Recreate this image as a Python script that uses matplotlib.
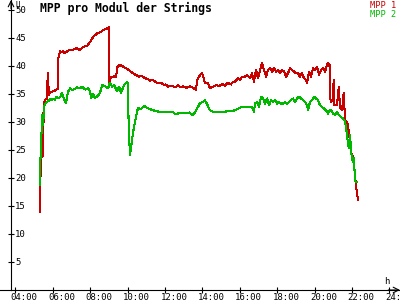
import matplotlib
matplotlib.use("Agg")
import matplotlib.pyplot as plt

# MPP 1 (red): time in hours, voltage per module
mpp1_time = [5.32, 5.33, 5.37, 5.38, 5.42, 5.44, 5.46, 5.49, 5.50, 5.53, 5.56, 5.62,
             5.70, 5.73, 5.76, 5.78, 5.80, 5.86, 6.02, 6.18, 6.28, 6.30, 6.39, 6.45,
             6.55, 6.65, 6.76, 6.93, 7.09, 7.30, 7.46, 7.57, 7.73, 7.84, 8.00, 8.16,
             8.37, 8.53, 8.69, 8.90, 9.01, 9.02, 9.04, 9.06, 9.12, 9.28, 9.33, 9.40,
             9.44, 9.55, 9.60, 9.76, 9.97, 10.13, 10.29, 10.45, 10.61, 10.78, 10.94,
             11.09, 11.20, 11.36, 11.52, 11.63, 11.79, 11.95, 12.06, 12.16, 12.27,
             12.43, 12.59, 12.70, 12.81, 12.97, 13.13, 13.34, 13.45, 13.61, 13.66,
             13.72, 13.88, 13.98, 14.04, 14.14, 14.30, 14.41, 14.57, 14.73, 14.89,
             15.05, 15.21, 15.37, 15.53, 15.64, 15.75, 15.91, 16.02, 16.12, 16.28,
             16.39, 16.55, 16.66, 16.76, 16.87, 16.98, 17.09, 17.19, 17.30, 17.41,
             17.51, 17.62, 17.73, 17.83, 17.94, 18.05, 18.16, 18.26, 18.37, 18.48,
             18.58, 18.69, 18.80, 18.90, 19.01, 19.12, 19.22, 19.33, 19.44, 19.55,
             19.60, 19.71, 19.81, 19.92, 20.03, 20.13, 20.24, 20.35, 20.45, 20.56,
             20.67, 20.72, 20.80, 20.83, 20.88, 20.99, 21.02, 21.06, 21.20, 21.30,
             21.36, 21.47, 21.56, 21.63, 21.74, 21.79, 21.84, 21.90, 21.95, 22.00,
             22.05, 22.16, 22.21, 22.32]
mpp1_volt = [14.0, 18.2, 23.2, 28.0, 24.0, 27.0, 23.8, 26.5, 31.6, 30.0, 33.6, 34.0,
             34.2, 38.5, 38.7, 35.5, 34.9, 35.2, 35.5, 35.7, 36.0, 41.4, 42.6, 42.5,
             42.6, 42.3, 42.6, 42.9, 42.9, 43.2, 42.8, 43.3, 43.5, 43.6, 44.3, 45.2,
             45.8, 46.0, 46.4, 46.7, 46.9, 37.5, 36.6, 38.0, 37.9, 38.2, 38.0, 38.2,
             39.8, 40.1, 40.2, 39.9, 39.5, 39.1, 38.7, 38.4, 38.1, 38.2, 37.8,
             37.7, 37.4, 37.5, 37.1, 36.9, 37.0, 36.6, 36.7, 36.3, 36.5,
             36.4, 36.2, 36.6, 36.2, 36.4, 36.1, 36.4, 36.2, 35.9, 35.7,
             37.5, 38.4, 38.8, 38.2, 36.9, 37.0, 36.0, 36.3, 36.6, 36.4,
             36.8, 36.5, 37.0, 36.7, 37.2, 37.2, 37.8, 37.5, 38.1, 38.1,
             38.4, 37.8, 38.7, 37.2, 39.3, 37.8, 39.3, 40.5, 39.3, 38.1,
             39.3, 39.6, 39.0, 39.6, 39.0, 39.3, 38.7, 39.3, 39.0, 38.1,
             38.7, 39.6, 39.3, 39.0, 38.7, 38.7, 38.1, 38.7, 37.8, 37.5,
             36.9, 39.0, 38.1, 39.6, 39.3, 39.9, 38.4, 39.3, 39.6, 39.0,
             40.2, 40.5, 40.2, 34.3, 33.6, 33.8, 37.5, 33.0, 33.0, 36.3,
             32.5, 32.1, 35.2, 30.4, 30.0, 29.3, 28.0, 26.4, 24.6, 24.1,
             23.9, 20.9, 18.75, 16.1]

# MPP 2 (green)
mpp2_time = [5.32, 5.34, 5.40, 5.43, 5.46, 5.49, 5.52, 5.56, 5.62, 5.70, 5.80, 5.86,
             5.96, 6.02, 6.12, 6.18, 6.28, 6.39, 6.50, 6.60, 6.71, 6.82, 6.93, 7.03,
             7.19, 7.30, 7.46, 7.57, 7.73, 7.89, 8.00, 8.05, 8.16, 8.26, 8.42, 8.53,
             8.64, 8.80, 8.96, 9.06, 9.17, 9.28, 9.44, 9.55, 9.65, 9.81, 9.97, 10.03,
             10.06, 10.13, 10.19, 10.29, 10.45, 10.56, 10.67, 10.78, 10.88, 11.04,
             11.20, 11.47, 11.74, 12.01, 12.43, 12.54, 12.81, 13.34, 13.45, 13.61,
             13.77, 13.88, 14.04, 14.14, 14.25, 14.41, 14.57, 15.48, 15.75, 15.91,
             16.12, 16.66, 16.76, 16.82, 16.93, 17.03, 17.14, 17.25, 17.35, 17.46,
             17.57, 17.67, 17.78, 17.89, 17.99, 18.10, 18.21, 18.32, 18.42, 18.53,
             18.64, 18.74, 18.85, 18.96, 19.06, 19.17, 19.28, 19.39, 19.49, 19.60,
             19.65, 19.76, 19.87, 19.97, 20.08, 20.19, 20.29, 20.40, 20.51, 20.62,
             20.72, 20.83, 20.88, 20.99, 21.10, 21.20, 21.31, 21.42, 21.52, 21.63,
             21.74, 21.79, 21.84, 21.90, 21.95, 22.00, 22.05, 22.11, 22.16, 22.21,
             22.26]
mpp2_volt = [18.8, 22.9, 28.0, 31.2, 31.0, 29.5, 31.5, 33.0, 33.4, 33.6, 33.8, 34.1,
             33.9, 34.1, 34.0, 34.5, 34.3, 34.4, 35.2, 34.1, 33.4, 35.4, 36.0, 35.7,
             35.9, 36.2, 36.0, 36.3, 35.8, 36.0, 35.5, 34.3, 35.0, 34.3, 34.7, 35.2,
             36.6, 36.4, 36.0, 37.0, 36.3, 36.6, 35.5, 36.3, 35.2, 36.6, 37.1, 36.8,
             29.1, 24.1, 25.5, 28.0, 30.9, 32.5, 32.3, 32.5, 32.9, 32.5,
             32.3, 32.0, 31.8, 31.8, 31.8, 31.4, 31.6, 31.7, 31.2, 31.7,
             32.7, 33.4, 33.6, 33.9, 33.2, 32.1, 31.8, 31.9, 32.1, 32.4,
             32.7, 32.7, 31.8, 33.3, 33.6, 32.7, 34.5, 34.2, 33.3, 34.2,
             33.0, 33.9, 33.6, 33.9, 33.3, 33.6, 33.3, 33.3, 33.6, 33.3,
             33.6, 33.9, 34.2, 33.6, 34.2, 34.5, 34.2, 33.9, 33.6, 33.0,
             32.1, 33.6, 33.9, 34.5, 34.2, 33.9, 33.0, 32.7, 32.4, 32.1,
             31.5, 32.1, 32.1, 31.5, 31.25, 31.8, 31.25, 30.9, 30.65, 30.1,
             27.7, 25.9, 25.3, 27.7, 25.0, 23.5, 22.9, 23.5, 19.6, 19.3,
             19.3]

yticks = [5, 10, 15, 20, 25, 30, 35, 40, 45, 50]
xticks = [4, 6, 8, 10, 12, 14, 16, 18, 20, 22, 24]
xlabels = ["04:00", "06:00", "08:00", "10:00", "12:00", "14:00", "16:00",
           "18:00", "20:00", "22:00", "24:00"]

red = "#c80000"
green = "#00b800"
mono = "DejaVu Sans Mono"

fig = plt.figure(figsize=(4, 3), dpi=100)
ax = fig.add_axes([11 / 400, 10 / 300, 389 / 400, 290 / 300])

ax.plot(mpp1_time, mpp1_volt, color=red, lw=0.75, antialiased=False)
ax.plot(mpp2_time, mpp2_volt, color=green, lw=0.75, antialiased=False)

ax.set_xlim(3.77, 24.57)
ax.set_ylim(0, 51.79)

for s in ["top", "right"]:
    ax.spines[s].set_visible(False)
for s in ["left", "bottom"]:
    ax.spines[s].set_linewidth(0.8)

ax.set_xticks(xticks)
ax.set_yticks(yticks)
ax.set_xticklabels([])
ax.set_yticklabels([])
ax.tick_params(direction="inout", length=4.5, width=0.8)

for v in yticks:
    ax.annotate(str(v), xy=(0, v), xycoords=("axes fraction", "data"),
                xytext=(4, 0), textcoords="offset pixels",
                ha="left", va="center", fontsize=6.5, family=mono)
for h, lab in zip(xticks, xlabels):
    ax.annotate(lab, xy=(h, 0), xycoords=("data", "axes fraction"),
                xytext=(-4.5, -2.5), textcoords="offset pixels",
                ha="left", va="top", fontsize=6.5, family=mono,
                annotation_clip=False)

# axis arrows and units
ax.annotate("", xy=(0, 1.0), xytext=(0, 0.97), xycoords="axes fraction",
            arrowprops=dict(arrowstyle="->", lw=0.8, color="black",
                            shrinkA=0, shrinkB=0))
ax.annotate("", xy=(1.0, 0), xytext=(0.97, 0), xycoords="axes fraction",
            arrowprops=dict(arrowstyle="->", lw=0.8, color="black",
                            shrinkA=0, shrinkB=0))
ax.plot([-11 / 389, 0], [0, 0], transform=ax.transAxes, color="black",
        lw=0.8, clip_on=False)
fig.text(16 / 400, 1 - 0.5 / 300, "U", ha="left", va="top", fontsize=5.5, family=mono)
fig.text(387 / 400, 1 - 281 / 300, "h", ha="center", va="center",
         fontsize=6.5, family=mono)

fig.text(40 / 400, 1 - 2 / 300, "MPP pro Modul der Strings", ha="left", va="top",
         fontsize=8.3, family=mono, fontweight="bold")
fig.text(396 / 400, 1 - 1 / 300, "MPP 1", ha="right", va="top", fontsize=6.2,
         family=mono, color=red)
fig.text(396 / 400, 1 - 10 / 300, "MPP 2", ha="right", va="top", fontsize=6.2,
         family=mono, color=green)

fig.savefig("out.png", dpi=100, facecolor="white")
